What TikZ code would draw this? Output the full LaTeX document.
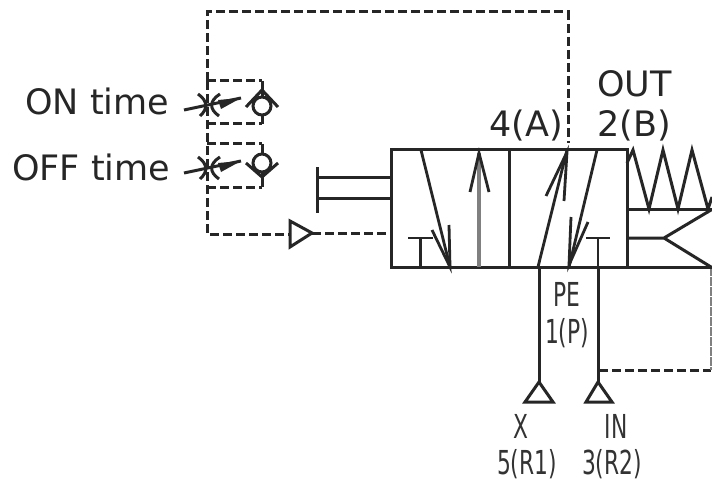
\documentclass[tikz,border=0pt]{standalone}
\usepackage{fontspec}
\setmainfont{DejaVu Sans}
\begin{document}
\begin{tikzpicture}[x=1pt,y=-1pt,
  ink/.style={line width=3pt,draw=black!85},
  flow/.style={line width=2.8pt,draw=black!85},
  grey/.style={line width=3.4pt,draw=black!50},
  ctrlline/.style={draw=black!85,dash pattern=on 9pt off 4pt,line width=3pt},
  lab/.style={font=\fontsize{35}{35}\selectfont,text=black!85,inner sep=0pt,anchor=base west},
  narrow/.style={font=\fontsize{33}{33}\selectfont,text=black!80,inner sep=0pt,xscale=0.66,anchor=base}]
\useasboundingbox (0,0) rectangle (712,484);
\fill[white] (0,0) rectangle (712,484);
% coordinates
\coordinate (vtl) at (391,150); \coordinate (vbr) at (627,267);
% pilot lines
\draw[ctrlline] (207,81) -- (207,12) -- (568,12) -- (568,143);
\draw[ctrlline] (207,81) -- (207,234) -- (290,234);
\draw[ctrlline] (312,233) -- (391,233);
\draw[ctrlline] (207,81) -- (262,81);
\draw[ctrlline] (207,124) -- (262,124);
\draw[ctrlline] (207,144) -- (262,144);
\draw[ctrlline] (207,187) -- (262,187);
\draw[ctrlline] (599,370) -- (711,370);
\draw[line width=1.6pt,draw=black!50,dash pattern=on 9pt off 1pt] (711,267) -- (711,370);
% check valves
\draw[ink] (262,81) -- (262,97) (262,115) -- (262,124);
\draw[ink] (262,106) circle (9);
\draw[ink] (246,107) -- (262,90) -- (278,107);
\draw[ink] (262,144) -- (262,154) (262,172) -- (262,187);
\draw[ink] (262,163) circle (9);
\draw[ink] (246,163) -- (262,177) -- (278,163);
% throttles
\foreach \y in {0,63}{
  \draw[ink] (184,110+\y) -- (241,98+\y);
  \fill[black!85] (241,98+\y) -- (218,100+\y) -- (221,109+\y) -- cycle;
  \draw[ink] (198,94+\y) .. controls (208,101+\y) and (208,109+\y) .. (200,116+\y);
  \draw[ink] (220,94+\y) .. controls (209,101+\y) and (209,109+\y) .. (219,116+\y);
}
% pilot triangle
\draw[ink,fill=white,line join=miter] (290,221) -- (312,233) -- (290,247) -- cycle;
% manual plunger
\draw[ink] (317,167) -- (317,213);
\draw[ink] (317,177) -- (391,177) (317,198) -- (391,198);
% valve body
\draw[ink] (vtl) rectangle (vbr);
\draw[ink] (509,150) -- (509,267);
% envelope 1
\draw[flow] (421,150) -- (450,267);
\draw[flow] (432,230) -- (450,267) -- (449,225);
\draw[flow] (408,238) -- (433,238) (420.5,238) -- (420.5,267);
\draw[grey] (479,267) -- (479,153);
\draw[flow] (470,192) -- (479,153) -- (489,192);
% envelope 2
\draw[flow] (538,267) -- (567,150);
\draw[flow] (546,196) -- (567,152) -- (564,201);
\draw[flow] (597,150) -- (569,267);
\draw[flow] (571,217) -- (569,265) -- (588,222);
\draw[flow] (586,238) -- (610,238) (598,238) -- (598,267);
% spring and solenoid
\draw[ink,line join=miter] (627,163) -- (633,150) -- (649,209) -- (663,150) -- (678,209) -- (692,150) -- (708,209) -- (712,197);
\draw[ink] (627,209) -- (712,209) (627,267) -- (712,267);
\draw[ink] (627,238) -- (664,238) (711,210) -- (664,238) -- (711,267);
% ports
\draw[ink] (539,267) -- (539,383) (598,267) -- (598,383);
\draw[ink,line join=miter] (539,382) -- (525,402) -- (553,402) -- cycle;
\draw[ink,line join=miter] (598,382) -- (586,402) -- (612,402) -- cycle;
% labels
\node[lab] (ontime) at (25,115) {ON time};
\node[lab] (offtime) at (12,180) {OFF time};
\node[lab] (out) at (597,97) {OUT};
\node[lab] (pa) at (489,137) {4(A)};
\node[lab] (pb) at (597,137) {2(B)};
\node[narrow] (pe) at (567,306) {PE};
\node[narrow] (pp) at (567,343) {1(P)};
\node[narrow] (x) at (521,438) {X};
\node[narrow] (r1) at (527,474) {5(R1)};
\node[narrow] (in) at (616,438) {IN};
\node[narrow] (r2) at (612,474) {3(R2)};
\end{tikzpicture}
\end{document}
